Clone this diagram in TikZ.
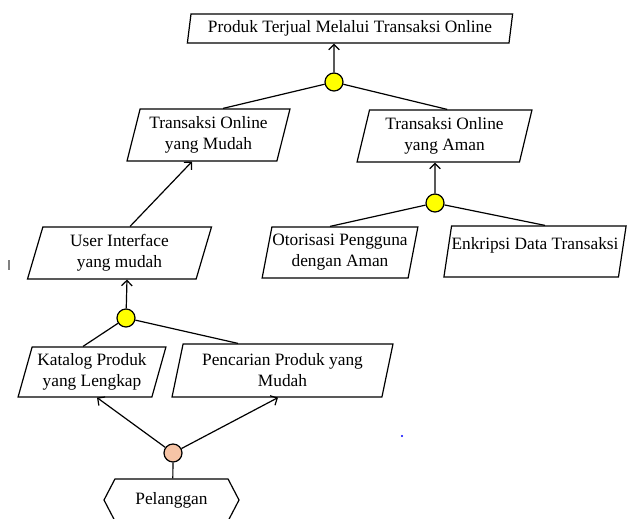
\documentclass[tikz,border=0pt]{standalone}
\usepackage{fontspec}
\setmainfont{Liberation Serif}
\usetikzlibrary{shapes.geometric,shapes.symbols,arrows.meta}

\definecolor{andyellow}{RGB}{255,255,0}
\definecolor{linkpeach}{RGB}{246,196,166}

\tikzset{
    goalbox/.style={trapezium, trapezium stretches=true, trapezium left angle=76,
        trapezium right angle=104, draw, align=center, inner xsep=0pt, inner ysep=1pt},
    andnode/.style={circle, draw, fill=andyellow, minimum size=13.5pt, inner sep=0pt},
    linknode/.style={circle, draw, fill=linkpeach, minimum size=13.5pt, inner sep=0pt},
    agentnode/.style={signal, signal to=west and east, signal pointer angle=125, draw}
}

\begin{document}
\begin{tikzpicture}[x=0.75pt,y=-0.75pt,line width=0.9pt,
        font=\fontsize{13}{15.75}\selectfont,
        >={Straight Barb[length=4pt,width=8pt]}]
            \useasboundingbox (0,0) rectangle (627,518);
            %goals
            \node[goalbox, trapezium left angle=80, trapezium right angle=100,
                minimum width=244.5pt, minimum height=21.75pt] (produk) at (350,28.5) {Produk Terjual Melalui Transaksi Online};
            \node[goalbox, trapezium left angle=74, trapezium right angle=106,
                minimum width=122.25pt, minimum height=39pt] (mudah) at (208.5,135) {Transaksi Online\\yang Mudah};
            \node[goalbox, minimum width=131.25pt, minimum height=39pt] (aman) at (444.5,136) {Transaksi Online\\yang Aman};
            \node[goalbox, minimum width=138.75pt, minimum height=39pt] (ui) at (119.5,253) {User Interface\\yang mudah};
            \node[goalbox, minimum width=117pt, minimum height=38.25pt] (otorisasi) at (340,252.5) {Otorisasi Pengguna\\dengan Aman};
            \node[goalbox, minimum width=133.5pt, minimum height=38.25pt, text depth=12pt] (enkripsi) at (535,251.5) {Enkripsi Data Transaksi};
            \node[goalbox, trapezium left angle=72, trapezium right angle=108,
                minimum width=111pt, minimum height=37.5pt] (katalog) at (92,372) {Katalog Produk\\yang Lengkap};
            \node[goalbox, minimum width=165.75pt, minimum height=39.75pt] (pencarian) at (282.5,370.5) {Pencarian Produk yang\\Mudah};
            %actor
            \node[agentnode, minimum width=101.25pt, minimum height=31.5pt] (pelanggan) at (171.5,500) {Pelanggan};
            %and / link nodes
            \node[andnode] (and1) at (334,82) {};
            \node[andnode] (and2) at (435,203) {};
            \node[andnode] (and3) at (126,318) {};
            \node[linknode] (link) at (173,453) {};
            %
            %top decomposition
            \draw[->] (and1) -- ([xshift=-12pt]produk.south);
            \draw (and1) -- ([xshift=10.9pt]mudah.north);
            \draw (and1) -- ([xshift=2pt]aman.north);
            %secure transactions
            \draw[->] (and2) -- ([xshift=-7.1pt]aman.south);
            \draw (and2) -- ([xshift=-7.5pt]otorisasi.north);
            \draw (and2) -- ([xshift=7.5pt]enkripsi.north);
            %easy transactions
            \draw[->] ([xshift=7.9pt]ui.north) -- ([xshift=-12.4pt]mudah.south);
            \draw[->] (and3) -- ([xshift=5.6pt]ui.south);
            \draw (and3) -- ([xshift=-6.75pt]katalog.north);
            \draw (and3) -- ([xshift=-33.4pt]pencarian.north);
            %customer
            \draw (link) -- ([xshift=1pt]pelanggan.north);
            \draw[->] (link) -- ([xshift=3.75pt]katalog.south);
            \draw[->] (link) -- ([xshift=-3.4pt]pencarian.south);
            %stray marks
            \fill[blue] (402,436) circle (1.2);
            \draw[gray, line width=0.8pt] (9,260) -- (9,270);
        \end{tikzpicture}
\end{document}
